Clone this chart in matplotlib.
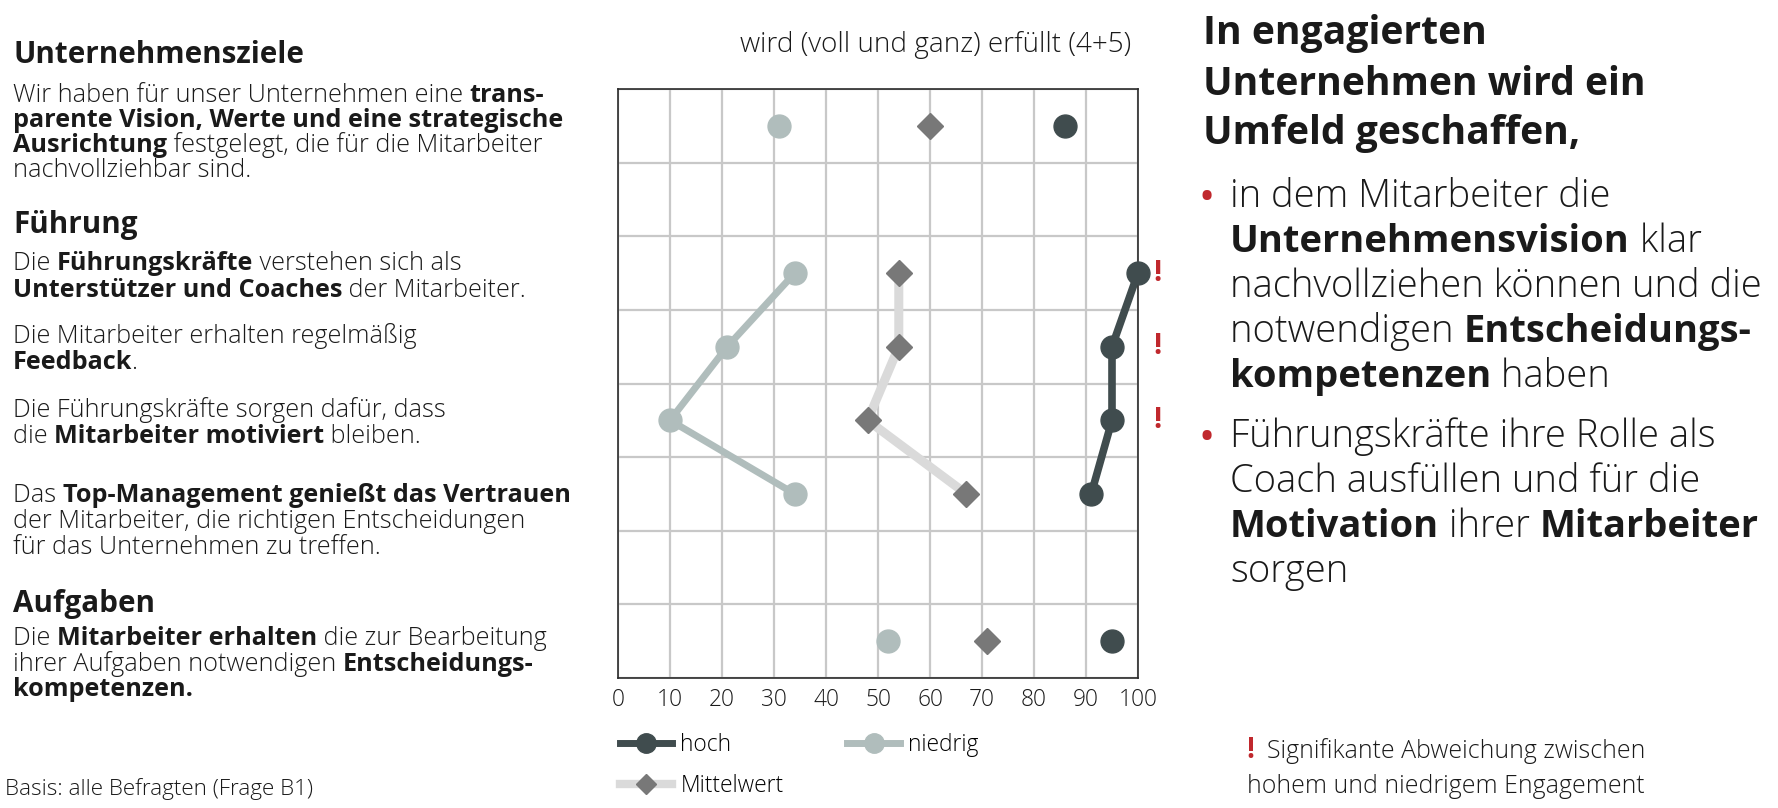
import matplotlib.pyplot as plt
from matplotlib.lines import Line2D

plt.rcParams['font.family'] = ['Open Sans', 'DejaVu Sans']

W, H = 1778, 808

# chart data: row position of each statement (8 slots, 0 = top) and values in %
item_rows = [0, 2, 3, 4, 5, 7]
hoch = [86, 100, 95, 95, 91, 95]
niedrig = [31, 34, 21, 10, 34, 52]
mittel = [60, 54, 54, 48, 67, 71]
significant = [False, True, True, True, False, False]
linked = slice(1, 5)  # the four "Führung" items are connected
n_slots = 8
xticks = list(range(0, 101, 10))

C_HOCH = '#404c4e'
C_NIED = '#b0bdbc'
C_MITT = '#787878'
C_MITT_LINE = '#dadada'
C_RED = '#c0282d'
C_TXT = '#1a1a1a'
REG = 'light'

fig = plt.figure(figsize=(W / 100, H / 100), dpi=100)
renderer = fig.canvas.get_renderer()


def width(txt, size, bold):
    w8 = 'bold' if bold else REG
    t = fig.text(0, 0, txt + '|', fontsize=size, fontweight=w8)
    b = fig.text(0, 0, '|', fontsize=size, fontweight=w8)
    w = t.get_window_extent(renderer).width - b.get_window_extent(renderer).width
    t.remove()
    b.remove()
    return w


def fit(parts, target_px):
    # font size at which the given line is target_px wide
    return 10 * target_px / sum(width(t, 10, b) for t, b in parts)


def rich(x, y, parts, size, color=C_TXT):
    for txt, bold in parts:
        fig.text(x / W, 1 - y / H, txt, fontsize=size, color=color,
                 fontweight='bold' if bold else REG, va='baseline', ha='left')
        x += width(txt, size, bold)


def plain(x, y, txt, size, bold=False, color=C_TXT, ha='left'):
    fig.text(x / W, 1 - y / H, txt, fontsize=size, color=color, ha=ha, va='baseline',
             fontweight='bold' if bold else REG)


SMALL = fit([('Mittelwert', False)], 103)

ax = fig.add_axes([618 / W, 1 - 678 / H, (1138 - 618) / W, (678 - 89) / H])

rows_l = item_rows[linked]
ax.plot(mittel[linked], rows_l, color=C_MITT_LINE, lw=6.5, solid_capstyle='butt', zorder=2)
ax.plot(niedrig[linked], rows_l, color=C_NIED, lw=5, zorder=2)
ax.plot(hoch[linked], rows_l, color=C_HOCH, lw=5.5, zorder=2)
ax.plot(mittel, item_rows, ls='none', marker='D', ms=13, color=C_MITT, zorder=3)
ax.plot(niedrig, item_rows, ls='none', marker='o', ms=16.5, color=C_NIED, zorder=3)
ax.plot(hoch, item_rows, ls='none', marker='o', ms=16.5, color=C_HOCH, zorder=4, clip_on=False)

for r, sig in zip(item_rows, significant):
    if sig:
        ax.text(1.037, r, '!', transform=ax.get_yaxis_transform(), color=C_RED,
                fontsize=21, fontweight='bold', ha='center', va='center')

ax.set_xlim(0, 100)
ax.set_ylim(n_slots - 0.5, -0.5)
ax.set_xticks(xticks)
ax.set_yticks([i - 0.5 for i in range(n_slots + 1)])
ax.set_yticklabels([])
ax.tick_params(length=0, labelsize=SMALL, pad=7, colors=C_TXT)
for lab in ax.get_xticklabels():
    lab.set_fontweight(REG)
ax.grid(True, color='#c8c8c8', lw=1.6)
ax.set_axisbelow(True)
for s in ax.spines.values():
    s.set_color('#2a2a2a')
    s.set_linewidth(1.2)

handles = [
    Line2D([], [], color=C_HOCH, lw=5, marker='o', ms=14),
    Line2D([], [], color=C_MITT_LINE, lw=6, marker='D', ms=10, mfc=C_MITT, mec=C_MITT),
    Line2D([], [], color=C_NIED, lw=5, marker='o', ms=14),
]
fig.legend(handles, ['hoch', 'Mittelwert', 'niedrig'], ncol=2, frameon=False,
           loc='upper left', bbox_to_anchor=(620 / W, 1 - 733 / H),
           prop={'size': SMALL, 'weight': REG}, handlelength=2.3, handletextpad=0.35,
           columnspacing=2.8, labelspacing=0.75, borderpad=0, borderaxespad=0)

# left text block
LX = 13
BODY = fit([('Das ', False), ('Top-Management genießt das Vertrauen', True)], 560)
HEAD = fit([('Unternehmensziele', True)], 291)
plain(LX, 63, 'Unternehmensziele', HEAD, bold=True)
rich(LX, 102, [('Wir haben für unser Unternehmen eine ', False), ('trans-', True)], BODY)
rich(LX, 127, [('parente Vision, Werte und eine strategische', True)], BODY)
rich(LX, 152, [('Ausrichtung', True), (' festgelegt, die für die Mitarbeiter', False)], BODY)
rich(LX, 177, [('nachvollziehbar sind.', False)], BODY)
plain(LX, 233, 'Führung', HEAD, bold=True)
rich(LX, 270, [('Die ', False), ('Führungskräfte', True), (' verstehen sich als', False)], BODY)
rich(LX, 297, [('Unterstützer und Coaches', True), (' der Mitarbeiter.', False)], BODY)
rich(LX, 343, [('Die Mitarbeiter erhalten regelmäßig', False)], BODY)
rich(LX, 369, [('Feedback', True), ('.', False)], BODY)
rich(LX, 417, [('Die Führungskräfte sorgen dafür, dass', False)], BODY)
rich(LX, 443, [('die ', False), ('Mitarbeiter motiviert', True), (' bleiben.', False)], BODY)
rich(LX, 502, [('Das ', False), ('Top-Management genießt das Vertrauen', True)], BODY)
rich(LX, 528, [('der Mitarbeiter, die richtigen Entscheidungen', False)], BODY)
rich(LX, 554, [('für das Unternehmen zu treffen.', False)], BODY)
plain(LX, 612, 'Aufgaben', HEAD, bold=True)
rich(LX, 645, [('Die ', False), ('Mitarbeiter erhalten', True), (' die zur Bearbeitung', False)], BODY)
rich(LX, 671, [('ihrer Aufgaben notwendigen ', False), ('Entscheidungs-', True)], BODY)
rich(LX, 696, [('kompetenzen.', True)], BODY)
basis = 'Basis: alle Befragten (Frage B1)'
plain(5, 795, basis, fit([(basis, False)], 308))

# chart title
title = 'wird (voll und ganz) erfüllt (4+5)'
plain(1131, 52, title, fit([(title, False)], 391), ha='right')

# right text block
RX = 1203
RH = fit([('Unternehmen wird ein', True)], 444)
RB = fit([('nachvollziehen können und die', False)], 532)
plain(RX, 44, 'In engagierten', RH, bold=True)
plain(RX, 95, 'Unternehmen wird ein', RH, bold=True)
plain(RX, 144, 'Umfeld geschaffen,', RH, bold=True)
BX = 1230
plain(1200, 207, '•', RB * 0.85, bold=True, color=C_RED)
rich(BX, 207, [('in dem Mitarbeiter die', False)], RB)
rich(BX, 252, [('Unternehmensvision', True), (' klar', False)], RB)
rich(BX, 297, [('nachvollziehen können und die', False)], RB)
rich(BX, 342, [('notwendigen ', False), ('Entscheidungs-', True)], RB)
rich(BX, 387, [('kompetenzen', True), (' haben', False)], RB)
plain(1200, 447, '•', RB * 0.85, bold=True, color=C_RED)
rich(BX, 447, [('Führungskräfte ihre Rolle als', False)], RB)
rich(BX, 492, [('Coach ausfüllen und für die', False)], RB)
rich(BX, 537, [('Motivation', True), (' ihrer ', False), ('Mitarbeiter', True)], RB)
rich(BX, 582, [('sorgen', False)], RB)

# significance note
note1 = 'Signifikante Abweichung zwischen'
NOTE = fit([(note1, False)], 378)
plain(1246, 758, '!', 20, bold=True, color=C_RED)
plain(1267, 758, note1, NOTE)
plain(1247, 793, 'hohem und niedrigem Engagement', NOTE)

fig.savefig('out.png', dpi=100)
